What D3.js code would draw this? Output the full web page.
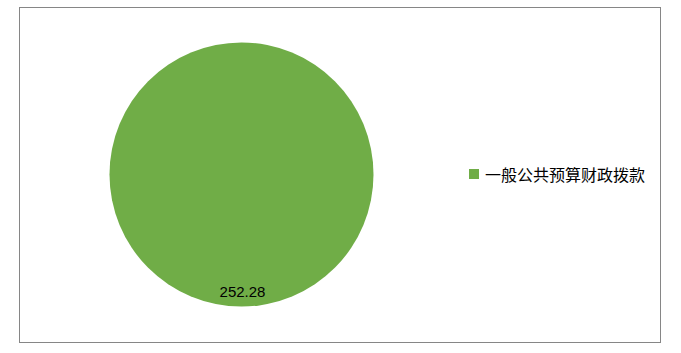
<!DOCTYPE html>
<html>
<head>
<meta charset="utf-8">
<script src="https://cdn.jsdelivr.net/npm/d3@7"></script>
<style>
  body { margin: 0; background: #fff; }
</style>
</head>
<body>
<script>
// Chart data
let categories = ["一般公共预算财政拨款"];
let values = [252.28];
let colors = ["#70AD47"];

let width = 681;
let height = 353;

let svg = d3.select("body")
  .append("svg")
  .attr("width", width)
  .attr("height", height);

// Outer frame
svg.append("rect")
  .attr("x", 19.5)
  .attr("y", 7.5)
  .attr("width", 641)
  .attr("height", 335)
  .attr("fill", "#fff")
  .attr("stroke", "#868686")
  .attr("stroke-width", 1);

let cx = 241.5, cy = 174.5, radius = 132;

let pie = d3.pie().sort(null).value(d => d);
let arc = d3.arc().innerRadius(0).outerRadius(radius);
let colorScale = d3.scaleOrdinal().domain(categories).range(colors);

let arcs = pie(values);

let g = svg.append("g")
  .attr("transform", `translate(${cx}, ${cy})`);

g.selectAll("path")
  .data(arcs)
  .enter()
  .append("path")
  .attr("d", arc)
  .attr("fill", (d, i) => colorScale(categories[i]));

// Data label near the bottom edge inside the slice
g.selectAll("text.label")
  .data(arcs)
  .enter()
  .append("text")
  .attr("class", "label")
  .attr("x", 1)
  .attr("y", radius - 10)
  .attr("text-anchor", "middle")
  .style("font-family", "'Liberation Sans', Arial, sans-serif")
  .style("font-size", "15px")
  .style("fill", "#000")
  .text(d => d.value.toFixed(2));

// Legend
let legend = svg.selectAll(".legend")
  .data(categories)
  .enter().append("g")
  .attr("class", "legend")
  .attr("transform", (d, i) => `translate(469, ${169 + i * 22})`);

legend.append("rect")
  .attr("width", 10)
  .attr("height", 10)
  .attr("fill", colorScale);

legend.append("text")
  .attr("x", 16)
  .attr("y", 11.5)
  .attr("textLength", 160)
  .attr("lengthAdjust", "spacingAndGlyphs")
  .style("font-family", "'Noto Sans CJK SC', sans-serif")
  .style("font-size", "16px")
  .style("fill", "#000")
  .text(d => d);
</script>
</body>
</html>
